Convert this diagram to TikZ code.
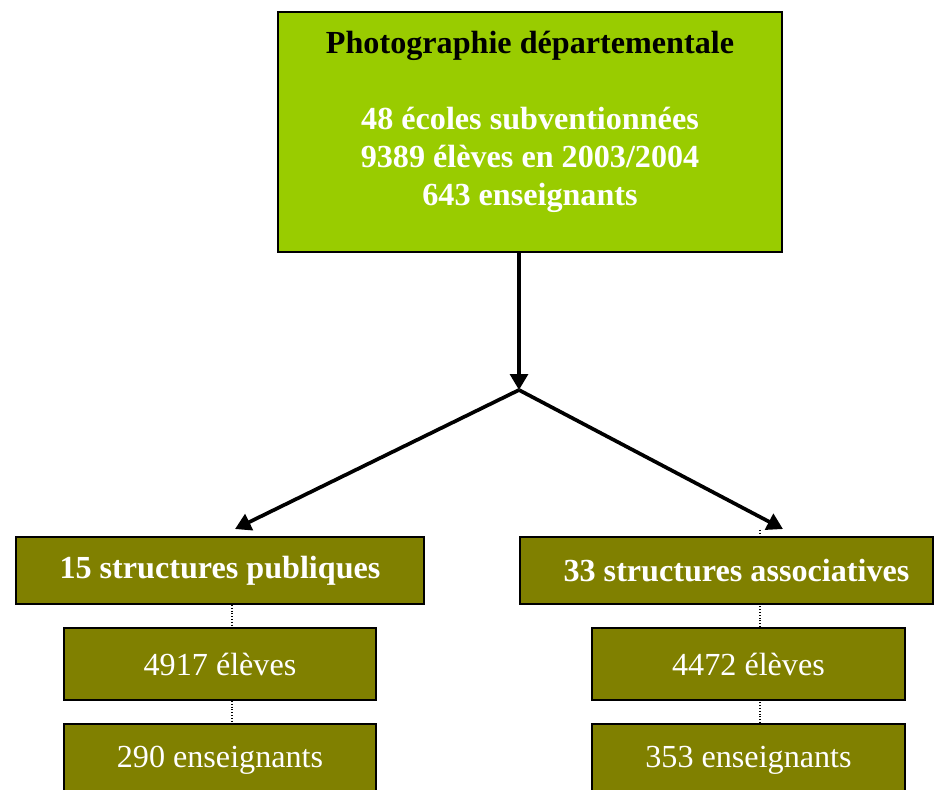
\documentclass[tikz,border=0pt]{standalone}
\usepackage{fontspec}
\setmainfont{Liberation Serif}
\usetikzlibrary{arrows.meta,calc}
\definecolor{pomme}{HTML}{99CC00}
\definecolor{kaki}{HTML}{808000}
\tikzset{
	boite/.style={draw, line width=1.1pt, inner sep=0pt, align=center, text=white,
		font=\fontsize{18.3}{21.6}\selectfont},
	tete/.style={boite, fill=pomme, font=\fontsize{18.3}{21.6}\selectfont\bfseries},
	branche/.style={boite, fill=kaki, font=\fontsize{18.3}{21.6}\selectfont\bfseries},
	detail/.style={boite, fill=kaki},
	fleche/.style={line width=2.1pt, -{Triangle[length=9pt,width=10pt]}},
	pointille/.style={densely dotted, line width=0.6pt}
}
\begin{document}
\begin{tikzpicture}[x=0.02cm, y=-0.02cm]
	\clip (0,0) rectangle (934,790);
	\node[tete, minimum width=10.08cm, minimum height=4.8cm] (photo) at (530,132)
		{{\color{black}Photographie départementale}\\ \strut\\ 48 écoles subventionnées\\ 9389 élèves en 2003/2004\\ 643 enseignants\\[-0.44cm] \strut};
	\coordinate (split) at (519,390);
	\node[branche, minimum width=8.16cm, minimum height=1.34cm] (pub) at (220,570.5) {15 structures publiques};
	\node[branche, minimum width=8.26cm, minimum height=1.34cm] (asso) at (726.5,570.5) {\hspace*{0.4cm}33 structures associatives};
	\node[detail, minimum width=6.24cm, minimum height=1.44cm] (pubEl) at (220,664) {4917 élèves};
	\node[detail, minimum width=6.24cm, minimum height=1.44cm] (pubEns) at (220,760) {290 enseignants};
	\node[detail, minimum width=6.26cm, minimum height=1.44cm] (assoEl) at (748.5,664) {4472 élèves};
	\node[detail, minimum width=6.26cm, minimum height=1.44cm] (assoEns) at (748.5,760) {353 enseignants};
	\coordinate (assoTop) at (760,530);
	\draw[fleche] (split |- photo.south) -- (split);
	\draw[fleche] (split) -- ($(pub.north) + (15,-7)$);
	\draw[fleche] (split) -- ($(asso.north) + (56.5,-7)$);
	\foreach \a/\b in {pub/pubEl, pubEl/pubEns}
		\draw[pointille] ($(\a.south) + (12,0)$) -- ($(\b.north) + (12,0)$);
	\foreach \a/\b in {asso/assoEl, assoEl/assoEns}
		\draw[pointille] ($(\b.north) + (11.5,0)$) -- ($(\b.north |- \a.south) + (11.5,0)$);
	\draw[pointille] (assoTop) -- (assoTop |- asso.north);
\end{tikzpicture}
\end{document}
